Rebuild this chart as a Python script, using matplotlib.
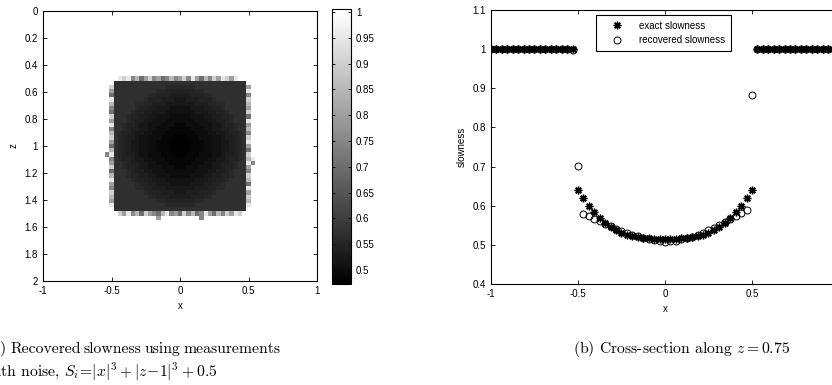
import matplotlib
matplotlib.use("Agg")
import matplotlib.pyplot as plt
import numpy as np

plt.rcParams['font.family'] = ['Liberation Sans', 'DejaVu Sans']
plt.rcParams['font.size'] = 7
plt.rcParams['axes.unicode_minus'] = False
plt.rcParams['mathtext.fontset'] = 'cm'

# ---- (a) recovered slowness map --------------------------------------
# one character per cell, grey levels below
level_chars = "0123456789abcdefgh."
level_values = [0.475, 0.487, 0.499, 0.511, 0.523, 0.535, 0.547, 0.559, 0.571, 0.583,
                0.60, 0.65, 0.70, 0.75, 0.80, 0.85, 0.90, 0.95, 1.00]

n_cells = 65            # x = -1..1, z = 0..2, step 1/32
patch_row0, patch_col0 = 15, 14   # rest of the map is background (1.0)
patch_rows = [
    ".....................................",
    "....hghdfcegdecdfdegdhecfdgehgeh.....",
    "...8888888888888888888888888888888...",
    "..g8888888888887777777888888888888e..",
    "..e8888888888776666666778888888888h..",
    "..c8888888877666555556667788888888d..",
    "..h8888888766655544455566678888888g..",
    "..f8888877665554444444555667788888f..",
    "..d8888876655444333334445566788888e..",
    "..c8888766554443333333444556678888g..",
    "..g8887665544333222223334455667888c..",
    "..e8887655443332222222333445567888h..",
    "..h8876654433322211122233344566788e..",
    "..d8876554433222111112223344556788f..",
    "..f8766544332221111111222334456678d..",
    "..g8765543322211100011122233455678g..",
    "..e8765443322111000001112233445678h..",
    "..c8765443322111000001112233445678e..",
    "..f8765443322111000001112233445678c..",
    ".dh8765543322211100011122233455678g..",
    "..d8766544332221111111222334456678fh.",
    "..e8876554433222111112223344556788hd.",
    "..g8876654433322211122233344566788e..",
    "..c8887655443332222222333445567888d..",
    "..f8887665544333222223334455667888g..",
    "..h8888766554443333333444556678888f..",
    "..e8888876655444333334445566788888c..",
    "..d8888877665554444444555667788888h..",
    "..g8888888766655544455566678888888e..",
    "..f8888888877666555556667788888888g..",
    "..e8888888888776666666778888888888f..",
    "..h8888888888887777777888888888888h..",
    "...8888888888888888888888888888888...",
    "....gehdfcgedcfhdecgdfcdhecfdgehg....",
    ".............e.........d.............",
]
for k, r in enumerate(patch_rows):
    assert len(r) == 37, (k, len(r))

cb_ticks = [0.5, 0.55, 0.6, 0.65, 0.7, 0.75, 0.8, 0.85, 0.9, 0.95, 1.0]
cb_labels = ["0.5", "0.55", "0.6", "0.65", "0.7", "0.75", "0.8", "0.85", "0.9", "0.95", "1"]

# ---- (b) cross-section along z = 0.75 ------------------------------
x_pts = np.linspace(-1, 1, n_cells)
exact = ([1.0] * 16 +
         [0.6406, 0.6186, 0.5993, 0.5827, 0.5684, 0.5562, 0.5461, 0.5378, 0.5312,
          0.5261, 0.5222, 0.5194, 0.5176, 0.5164, 0.5158, 0.5157, 0.5156,
          0.5157, 0.5158, 0.5164, 0.5176, 0.5194, 0.5222, 0.5261, 0.5312,
          0.5378, 0.5461, 0.5562, 0.5684, 0.5827, 0.5993, 0.6186, 0.6406] +
         [1.0] * 16)
recovered = ([1.0] * 15 + [0.997,
              0.702, 0.580, 0.573, 0.567, 0.561, 0.554, 0.547, 0.541, 0.535,
              0.530, 0.526, 0.522, 0.518, 0.515, 0.512, 0.510, 0.508,
              0.509, 0.511, 0.514, 0.517, 0.521, 0.526, 0.531, 0.537,
              0.543, 0.550, 0.558, 0.565, 0.574, 0.581, 0.590, 0.883] +
             [1.0] * 16)

lut = dict(zip(level_chars, level_values))
img = np.ones((n_cells, n_cells))
patch = np.array([[lut[c] for c in r] for r in patch_rows])
img[patch_row0:patch_row0 + patch.shape[0], patch_col0:patch_col0 + patch.shape[1]] = patch

W, H = 832, 385
fig = plt.figure(figsize=(W / 100, H / 100), dpi=100)

def px_axes(l, t, r, b):
    return fig.add_axes([l / W, 1 - b / H, (r - l) / W, (b - t) / H])

h = 1 / 64
ax1 = px_axes(43, 11, 317, 281)
im = ax1.imshow(img, cmap='gray', vmin=0.473, vmax=1.0, aspect='auto',
                interpolation='nearest', extent=[-1 - h, 1 + h, 2 + h, -h])
ax1.set_xlim(-1, 1)
ax1.set_ylim(2, 0)
ax1.set_xticks([-1, -0.5, 0, 0.5, 1])
ax1.set_xticklabels(["-1", "-0.5", "0", "0.5", "1"])
ax1.set_yticks(np.arange(0, 2.01, 0.2))
ax1.set_yticklabels(["0", "0.2", "0.4", "0.6", "0.8", "1", "1.2", "1.4", "1.6", "1.8", "2"])
ax1.set_xlabel("x")
ax1.set_ylabel("z")

cax = px_axes(332, 9, 351, 284)
cb = fig.colorbar(im, cax=cax, ticks=cb_ticks)
cb.ax.set_yticklabels(cb_labels)
cb.outline.set_linewidth(0.8)
cax.set_ylim(0.473, 1.006)
cax.tick_params(direction='in', left=True, right=True, length=2.5, width=0.6)

ax2 = px_axes(491, 10, 839, 284)
ax2.plot(x_pts, exact, ls='none', marker=(8, 2, 0), ms=5.5, mew=1.0, color='k',
         label='exact slowness')
ax2.plot(x_pts, recovered, ls='none', marker='o', ms=5, mew=0.7, mfc='none',
         mec='k', label='recovered slowness')
ax2.set_xlim(-1, 1)
ax2.set_ylim(0.4, 1.1)
ax2.set_xticks([-1, -0.5, 0, 0.5, 1])
ax2.set_xticklabels(["-1", "-0.5", "0", "0.5", "1"])
ax2.set_yticks([0.4, 0.5, 0.6, 0.7, 0.8, 0.9, 1.0, 1.1])
ax2.set_yticklabels(["0.4", "0.5", "0.6", "0.7", "0.8", "0.9", "1", "1.1"])
ax2.set_xlabel("x")
ax2.set_ylabel("slowness")
leg = ax2.legend(loc='upper center', bbox_to_anchor=(0.496, 0.982), numpoints=1,
                 fancybox=False, framealpha=1, edgecolor='k', handlelength=3.0,
                 handletextpad=0.8, borderpad=0.6, labelspacing=0.45, fontsize=7,
                 borderaxespad=0)
leg.get_frame().set_linewidth(0.8)

for ax in (ax1, ax2):
    ax.tick_params(direction='in', top=True, right=True, length=3, width=0.6)
    for s in ax.spines.values():
        s.set_linewidth(0.8)

# captions (LaTeX-like), first line of (a) is justified
cap = dict(fontsize=11.3, family='cmr10', va='center')
renderer = fig.canvas.get_renderer()
words = ["(a)", "Recovered", "slowness", "using", "measurements"]
x0, x1 = -13, 277
objs = [fig.text(0, 1 - 349 / H, w, ha='left', **cap) for w in words]
widths = [o.get_window_extent(renderer).width for o in objs]
gap = max(3.0, (x1 - x0 - sum(widths)) / (len(words) - 1))
xp = x0
for o, wd in zip(objs, widths):
    o.set_x(xp / W)
    xp += wd + gap
fig.text(-15 / W, 1 - 372 / H, r"with noise, $S_i\!=\!|x|^3+|z\!-\!1|^3+0.5$", ha='left', **cap)
fig.text(573 / W, 1 - 349 / H, r"(b) Cross-section along $z=0.75$", ha='left', **cap)

fig.savefig("out.png", dpi=100)
